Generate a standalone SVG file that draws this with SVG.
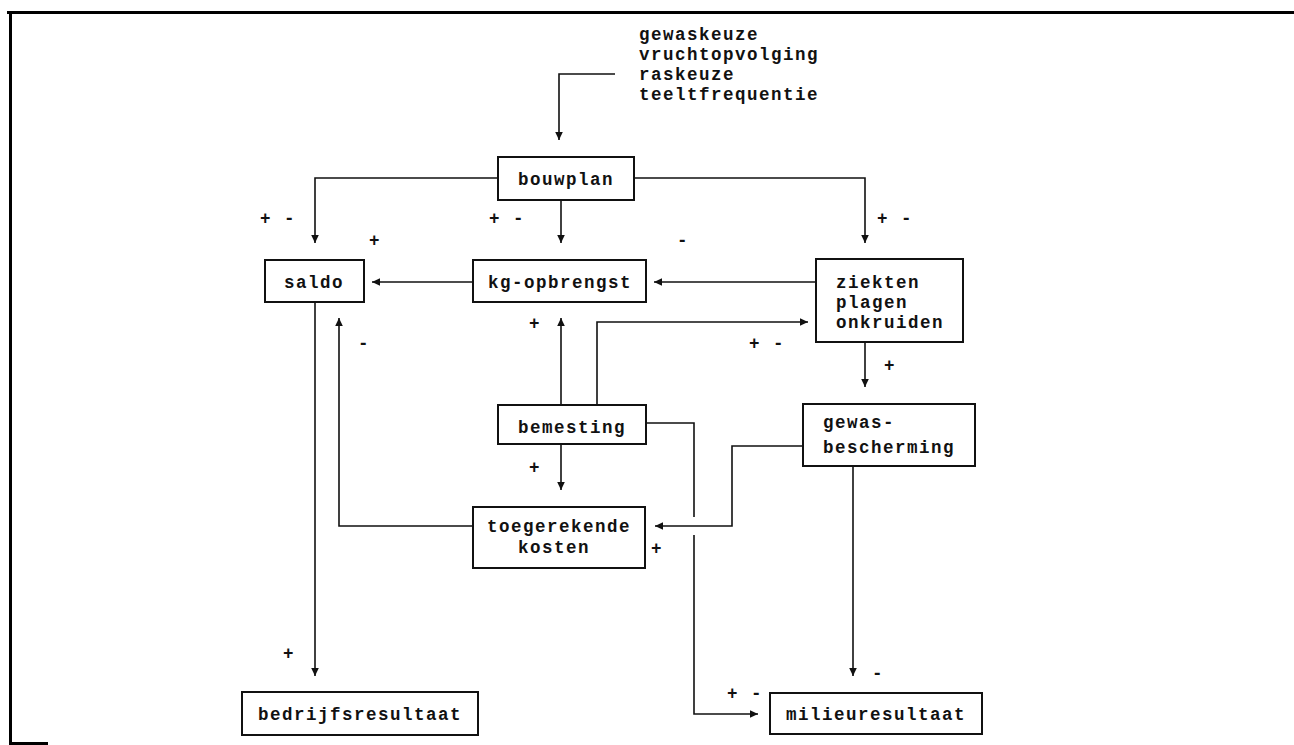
<svg xmlns="http://www.w3.org/2000/svg" width="1294" height="745" viewBox="0 0 1294 745">
<defs>
<style>
.t{font-family:"Liberation Mono","DejaVu Sans Mono",monospace;font-weight:bold;font-size:17.5px;letter-spacing:1.5px;fill:#111}
.c{text-anchor:middle}
.box{fill:#fff;stroke:#111;stroke-width:2}
.ln{fill:none;stroke:#111;stroke-width:1.6}
.fr{fill:none;stroke:#000;stroke-width:3}
</style>
<marker id="ah" markerUnits="userSpaceOnUse" markerWidth="10" markerHeight="10" viewBox="0 0 10 10" refX="9" refY="5" orient="auto">
<path d="M1,1.2 L9,5 L1,8.8 Z" fill="#111"/>
</marker>
</defs>
<rect width="1294" height="745" fill="#fff"/>
<g id="frame">
<path class="fr" d="M7,12.5 H1294 M10.5,12 V745 M10,743.5 H48"/>
</g>
<g id="inputs">
<text class="t" x="639" y="40">gewaskeuze</text>
<text class="t" x="639" y="60">vruchtopvolging</text>
<text class="t" x="639" y="80">raskeuze</text>
<text class="t" x="639" y="100">teeltfrequentie</text>
</g>
<g id="connectors">
<path class="ln" d="M615,74 H559 V140" marker-end="url(#ah)"/>
<path class="ln" d="M498,178 H315 V243" marker-end="url(#ah)"/>
<path class="ln" d="M561,200 V243" marker-end="url(#ah)"/>
<path class="ln" d="M634,178 H865 V243" marker-end="url(#ah)"/>
<path class="ln" d="M473,282 H372" marker-end="url(#ah)"/>
<path class="ln" d="M816,282 H654" marker-end="url(#ah)"/>
<path class="ln" d="M561,405 V318" marker-end="url(#ah)"/>
<path class="ln" d="M597,405 V322 H808" marker-end="url(#ah)"/>
<path class="ln" d="M865,342 V387" marker-end="url(#ah)"/>
<path class="ln" d="M561,444 V490" marker-end="url(#ah)"/>
<path class="ln" d="M803,446 H732 V526 H655" marker-end="url(#ah)"/>
<path class="ln" d="M473,526 H339 V318" marker-end="url(#ah)"/>
<path class="ln" d="M315,302 V676" marker-end="url(#ah)"/>
<path class="ln" d="M853,466 V676" marker-end="url(#ah)"/>
<path class="ln" d="M646,423 H694 V517"/>
<path class="ln" d="M694,535 V714 H758" marker-end="url(#ah)"/>
</g>
<g id="signs">
<text class="t" x="260" y="224">+ -</text>
<text class="t" x="489" y="224">+ -</text>
<text class="t" x="877" y="224">+ -</text>
<text class="t" x="369" y="246">+</text>
<text class="t" x="677" y="246">-</text>
<text class="t" x="529" y="329">+</text>
<text class="t" x="358" y="349">-</text>
<text class="t" x="749" y="349">+ -</text>
<text class="t" x="884" y="371">+</text>
<text class="t" x="529" y="473">+</text>
<text class="t" x="651" y="554">+</text>
<text class="t" x="283" y="659">+</text>
<text class="t" x="872" y="679">-</text>
<text class="t" x="727" y="699">+ -</text>
</g>
<g id="bouwplan">
<rect class="box" x="498" y="157" width="136" height="43"/>
<text class="t c" x="566" y="185">bouwplan</text>
</g>
<g id="saldo">
<rect class="box" x="265" y="260" width="99" height="42"/>
<text class="t c" x="314" y="288">saldo</text>
</g>
<g id="kg-opbrengst">
<rect class="box" x="473" y="260" width="173" height="42"/>
<text class="t c" x="560" y="288">kg-opbrengst</text>
</g>
<g id="ziekten">
<rect class="box" x="816" y="259" width="147" height="83"/>
<text class="t" x="836" y="288">ziekten</text>
<text class="t" x="836" y="308">plagen</text>
<text class="t" x="836" y="328">onkruiden</text>
</g>
<g id="bemesting">
<rect class="box" x="498" y="405" width="148" height="39"/>
<text class="t c" x="572" y="433">bemesting</text>
</g>
<g id="gewasbescherming">
<rect class="box" x="803" y="404" width="172" height="62"/>
<text class="t" x="823" y="428">gewas-</text>
<text class="t" x="823" y="453">bescherming</text>
</g>
<g id="toegerekende-kosten">
<rect class="box" x="473" y="507" width="172" height="61"/>
<text class="t" x="487" y="532">toegerekende</text>
<text class="t" x="518" y="553">kosten</text>
</g>
<g id="bedrijfsresultaat">
<rect class="box" x="242" y="692" width="236" height="43"/>
<text class="t c" x="360" y="720">bedrijfsresultaat</text>
</g>
<g id="milieuresultaat">
<rect class="box" x="770" y="693" width="212" height="41"/>
<text class="t c" x="876" y="720">milieuresultaat</text>
</g>
</svg>
